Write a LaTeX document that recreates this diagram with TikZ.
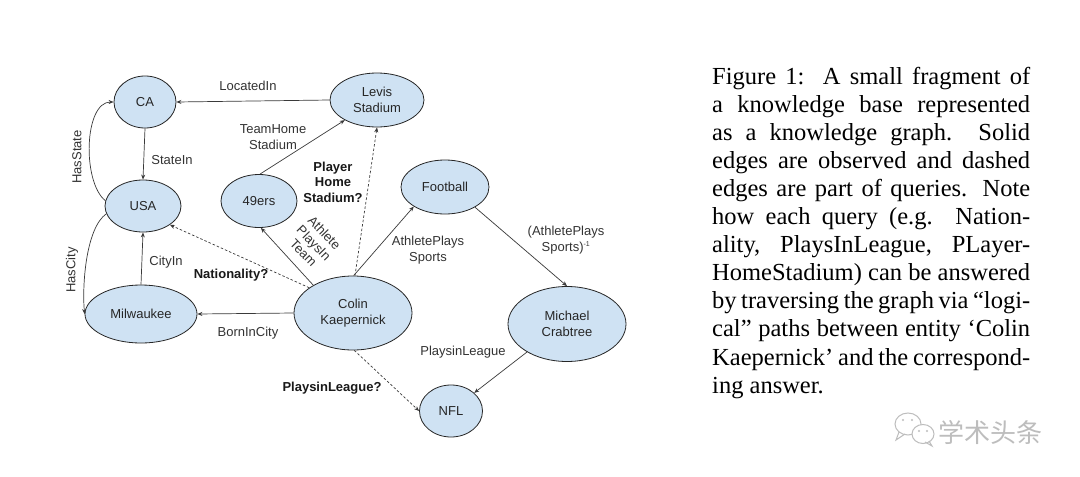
\documentclass[tikz,border=0pt]{standalone}
\usepackage{fontspec}
\setmainfont{Liberation Sans}
\newfontfamily\capfont{Liberation Serif}
\newfontfamily\cjkfont{Noto Sans CJK SC}
\usetikzlibrary{shapes.geometric,arrows.meta}
\definecolor{nodeblue}{HTML}{CFE2F3}
\definecolor{edgegray}{HTML}{3A3A3A}
\definecolor{wmgray}{HTML}{BDBDBD}
\begin{document}
\begin{tikzpicture}[x=1pt,y=-1pt,
  ent/.style={ellipse, draw=black!85, line width=0.8pt, fill=nodeblue, inner sep=0pt,
    font=\fontsize{13}{15.5}\selectfont, text=black!85, align=center},
  rel/.style={font=\fontsize{13}{15.5}\selectfont, text=black!80, align=center, inner sep=0pt},
  qry/.style={font=\fontsize{13}{15.5}\selectfont\bfseries, text=black!90, align=center, inner sep=0pt},
  edge/.style={draw=edgegray, line width=0.7pt, -{Stealth[length=5pt,width=4pt]}},
  qedge/.style={edge, dash pattern=on 2.5pt off 2pt}
]
\fill[white] (0,0) rectangle (1080,477);
\useasboundingbox (0,0) rectangle (1080,477);

% entities
\node[ent, minimum width=62, minimum height=52] (ca) at (145,102) {CA};
\node[ent, minimum width=76, minimum height=52] (usa) at (143,206) {USA};
\node[ent, minimum width=94, minimum height=54] (levis) at (377,100) {Levis\\Stadium};
\node[ent, minimum width=76, minimum height=53] (n49) at (259,201) {49ers};
\node[ent, minimum width=88, minimum height=54] (football) at (445,187) {Football};
\node[ent, minimum width=118, minimum height=74] (colin) at (353,313) {Colin\\Kaepernick};
\node[ent, minimum width=112, minimum height=58] (mil) at (141,314) {Milwaukee};
\node[ent, minimum width=118, minimum height=75] (crab) at (567,324) {Michael\\Crabtree};
\node[ent, minimum width=63, minimum height=52] (nfl) at (451,411) {NFL};

% observed edges
\draw[edge] (levis.180) -- (ca.0);
\draw[edge] (ca.south) -- (usa.north);
\draw[edge] (usa.172) .. controls (82,182) and (84,102) .. (ca.180);
\draw[edge] (usa.192) .. controls (86,228) and (82,285) .. (mil.180);
\draw[edge] (mil.north) -- (usa.south);
\draw[edge] (colin.180) -- (mil.0);
\draw[edge] (colin.145) -- (n49.-86);
\draw[edge] (n49.88) -- (levis.-148);
\draw[edge] (colin.89) -- (football.-148);
\draw[edge] (football.-34) -- (crab.90);
\draw[edge] (crab.-145) -- (nfl.38);

% query edges
\draw[qedge] (colin.150) -- (usa.-35);
\draw[qedge] (colin.87) -- (levis.-90);
\draw[qedge] (colin.-88) -- (nfl.180);

% relation labels
\node[rel] (lLocated) at (248,86) {LocatedIn};
\node[rel] (lStateIn) at (172,160) {StateIn};
\node[rel, rotate=90] (lHasState) at (77,157) {HasState};
\node[rel, rotate=90] (lHasCity) at (72,270) {HasCity};
\node[rel] (lCityIn) at (166,262) {CityIn};
\node[rel] (lBorn) at (248,333) {BornInCity};
\node[rel, rotate=-46, font=\fontsize{13}{14.5}\selectfont] (lAPT) at (314,243) {Athlete\\PlaysIn\\Team};
\node[rel] (lTHS) at (273,137) {TeamHome\\Stadium};
\node[rel] (lAPS) at (428,250) {AthletePlays\\Sports};
\node[rel] (lAPSinv) at (566,240) {(AthletePlays\\Sports)\textsuperscript{\fontsize{7}{8}\selectfont -1}};
\node[rel] (lPIL) at (463,352) {PlaysinLeague};

% query labels
\node[qry] (qNat) at (231,275) {Nationality?};
\node[qry] (qPHS) at (333,182) {Player\\Home\\Stadium?};
\node[qry] (qPIL) at (332,388) {PlaysinLeague?};

% caption
\node[anchor=base west, inner sep=0pt] (caption) at (712,84) {\parbox[t]{318pt}{\capfont\fontsize{24.5}{28.1}\selectfont
\spaceskip=0.25em plus 1em minus 0.13em
\makebox[318pt][s]{Figure 1:\ \ A small fragment of}\\
\makebox[318pt][s]{a knowledge base represented}\\
\makebox[318pt][s]{as a knowledge graph.\ \ Solid}\\
\makebox[318pt][s]{edges are observed and dashed}\\
\makebox[318pt][s]{edges are part of queries. Note}\\
\makebox[318pt][s]{how each query (e.g.\ \ Nation-}\\
\makebox[318pt][s]{ality, PlaysInLeague, PLayer-}\\
\makebox[318pt][s]{HomeStadium) can be answered}\\
\makebox[318pt][s]{by traversing the graph via “logi-}\\
\makebox[318pt][s]{cal” paths between entity ‘Colin}\\
\makebox[318pt][s]{Kaepernick’ and the correspond-}\\
\makebox[318pt][l]{ing answer.}}};

% watermark
\draw[wmgray, line width=1pt, fill=white] (908,424) ellipse (13 and 11);
\draw[wmgray, line width=1pt] (899,432) -- (896,440) -- (905,434);
\draw[wmgray, line width=1pt, fill=white] (923,434) ellipse (11 and 9.5);
\draw[wmgray, line width=1pt] (929,441) -- (932,446) -- (925,442);
\fill[wmgray] (903,420) circle (1.2) (912,420) circle (1.2) (919,431) circle (1.1) (927,431) circle (1.1);
\node[font=\cjkfont\fontsize{26}{28}\selectfont, text=wmgray, anchor=west, inner sep=0pt] (wm) at (938,432) {学术头条};
\end{tikzpicture}
\end{document}
